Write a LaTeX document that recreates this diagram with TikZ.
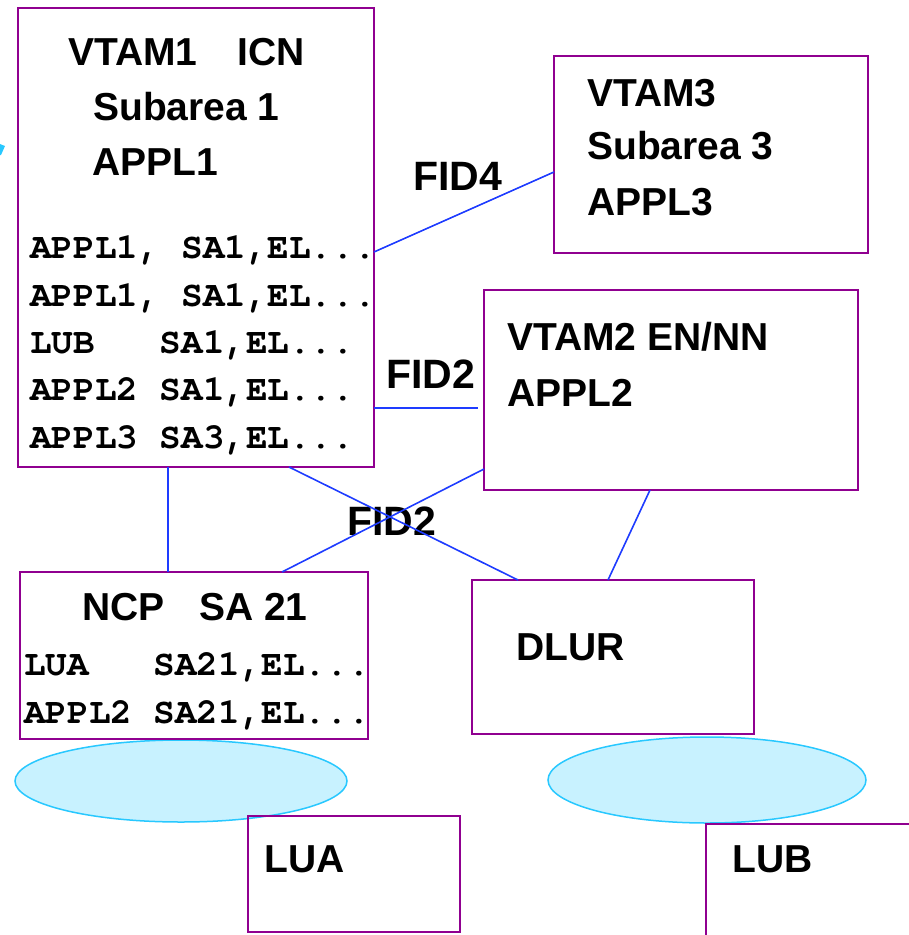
\documentclass[tikz,border=0pt]{standalone}
\usepackage{fontspec}
\setmainfont{Liberation Sans}
\setmonofont{TeX Gyre Cursor}
\usetikzlibrary{shapes.geometric}
\definecolor{boxpurple}{RGB}{144,0,144}
\definecolor{linkblue}{RGB}{30,60,255}
\definecolor{lanedge}{RGB}{40,200,255}
\definecolor{lanfill}{RGB}{200,242,255}
\begin{document}
\begin{tikzpicture}[x=1pt,y=-1pt,
    box/.style={draw=boxpurple,line width=2pt,inner sep=0pt,outer sep=0pt,anchor=north west},
    lan/.style={ellipse,draw=lanedge,fill=lanfill,line width=1.5pt,inner sep=0pt,outer sep=0pt},
    lbl/.style={anchor=base west,inner sep=0pt,font=\fontsize{39}{41}\selectfont\bfseries},
    fid/.style={anchor=base west,inner sep=0pt,font=\fontsize{41}{43}\selectfont\bfseries},
    tbl/.style={anchor=base west,inner sep=0pt,font=\fontsize{36}{38}\selectfont\ttfamily\bfseries},
    link/.style={draw=linkblue,line width=1.6pt}]
    \useasboundingbox (0,0) rectangle (909,935);
    \fill[lanedge] (0,144) -- (5,146) -- (1,155) -- (0,155) -- cycle;
    \node[lan,minimum width=332pt,minimum height=82pt] (lana) at (181,781) {};
    \node[lan,minimum width=318pt,minimum height=86pt] (lanb) at (707,780) {};
    \node[box,minimum width=356pt,minimum height=459pt] (vtam1) at (18,8) {};
    \node[box,minimum width=314pt,minimum height=197pt] (vtam3) at (554,56) {};
    \node[box,minimum width=374pt,minimum height=200pt] (vtam2) at (484,290) {};
    \node[box,minimum width=348pt,minimum height=167pt] (ncp) at (20,572) {};
    \node[box,minimum width=282pt,minimum height=154pt] (dlur) at (472,580) {};
    \node[box,minimum width=212pt,minimum height=116pt] (lua) at (248,816) {};
    \coordinate (lubcorner) at (706,824);
    \draw[boxpurple,line width=2pt] (909,824) -- (lubcorner) -- (706,935);
    \node[lbl] (vtamone) at (68,65) {VTAM1};
    \node[lbl] (icn) at (237,65) {ICN};
    \node[lbl] (subone) at (93,120) {Subarea 1};
    \node[lbl] (applone) at (92,175) {APPL1};
    \node[tbl] (rowa) at (30,258) {APPL1, SA1,EL...};
    \node[tbl] (rowb) at (30,306) {APPL1, SA1,EL...};
    \node[tbl] (rowc) at (30,353) {LUB\ \ \ SA1,EL...};
    \node[tbl] (rowd) at (30,400) {APPL2 SA1,EL...};
    \node[tbl] (rowe) at (30,448) {APPL3 SA3,EL...};
    \node[lbl] (vtamthree) at (587,106) {VTAM3};
    \node[lbl] (subthree) at (587,159) {Subarea 3};
    \node[lbl] (applthree) at (587,215) {APPL3};
    \node[lbl] (vtamtwo) at (507,350) {VTAM2 EN/NN};
    \node[lbl] (appltwo) at (507,406) {APPL2};
    \node[fid] (fidfour) at (413,190) {FID4};
    \node[fid] (fidtwoa) at (386,388) {FID2};
    \node[fid] (fidtwob) at (347,535) {FID2};
    \node[lbl] (ncptext) at (82,620) {NCP};
    \node[lbl] (satwentyone) at (199,620) {SA 21};
    \node[tbl] (rowf) at (24,675) {LUA\ \ \ SA21,EL...};
    \node[tbl] (rowg) at (24,723) {APPL2 SA21,EL...};
    \node[lbl] (dlurtext) at (516,660) {DLUR};
    \node[lbl] (luatext) at (264,872) {LUA};
    \node[lbl] (lubtext) at (732,872) {LUB};
    \draw[link] ([yshift=-244pt]vtam1.north east) -- ([yshift=-116pt]vtam3.north west);
    \draw[link] ([yshift=-400pt]vtam1.north east) -- ([xshift=-6pt,yshift=-118pt]vtam2.north west);
    \draw[link] ([xshift=271pt]vtam1.south west) -- ([xshift=46pt]dlur.north west);
    \draw[link] ([yshift=21pt]vtam2.south west) -- ([xshift=262pt]ncp.north west);
    \draw[link] ([xshift=166pt]vtam2.south west) -- ([xshift=136pt]dlur.north west);
    \draw[link] ([xshift=150pt]vtam1.south west) -- ([xshift=148pt]ncp.north west);
\end{tikzpicture}
\end{document}
